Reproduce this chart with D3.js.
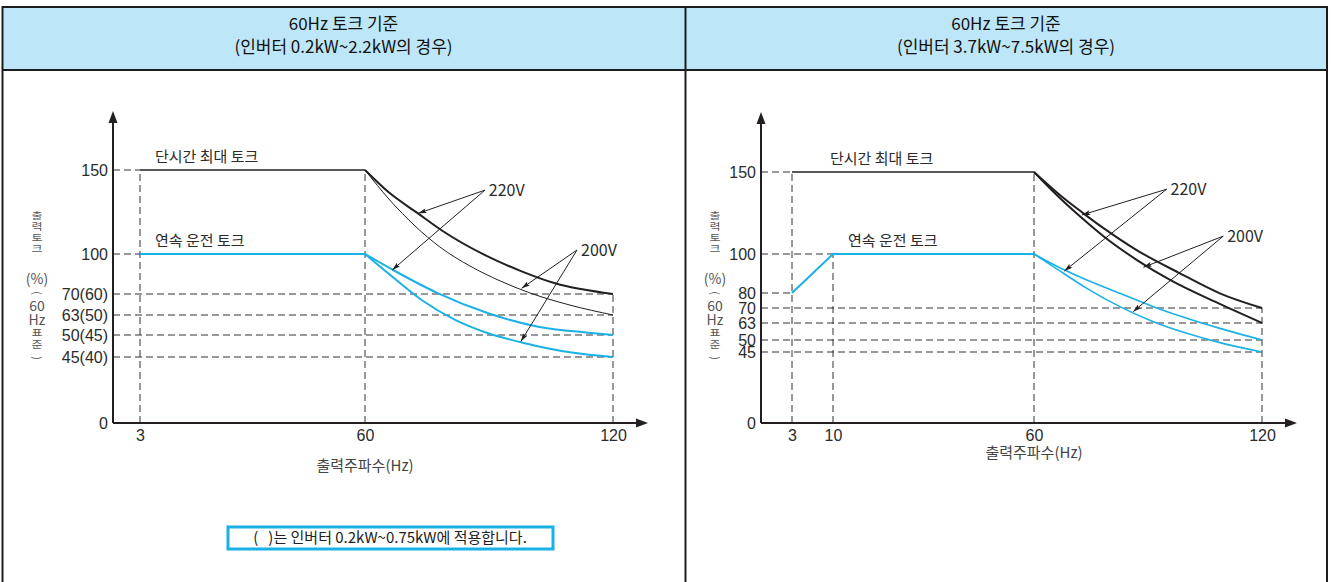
<!DOCTYPE html>
<html>
<head>
<meta charset="utf-8">
<script src="https://cdn.jsdelivr.net/npm/d3@7"></script>
<style>
  body { margin: 0; background: #fff; }
  svg { display: block; font-family: "Liberation Sans Narrow", "Noto Sans CJK KR", sans-serif; }
</style>
</head>
<body>
<svg width="1331" height="582"></svg>
<script>
// ---- data ----
var leftTitle = ["60Hz 토크 기준", "(인버터 0.2kW~2.2kW의 경우)"];
var rightTitle = ["60Hz 토크 기준", "(인버터 3.7kW~7.5kW의 경우)"];

var leftXTicks = [3, 60, 120];
var leftYTicks = [45, 50, 63, 70, 100, 150];
var leftYLabels = ["45(40)", "50(45)", "63(50)", "70(60)", "100", "150"];

var rightXTicks = [3, 10, 60, 120];
var rightYTicks = [45, 50, 63, 70, 80, 100, 150];
var rightYLabels = ["45", "50", "63", "70", "80", "100", "150"];

var leftShortFlat = [[3, 150], [60, 150]];
var leftContFlat = [[3, 100], [60, 100]];
var left220Short = [[60, 150], [65.6, 137], [72.9, 124], [78.6, 114], [89.8, 98], [97.9, 87], [106, 78], [120, 70]];
var left200Short = [[60, 150], [66, 132.1], [72.1, 116.7], [78.1, 104.2], [85.4, 91], [92.7, 79.8], [99.9, 70.8], [109.6, 66.3], [120, 63]];
var left220Cont = [[60, 100], [66.8, 88], [77.7, 70.5], [89.8, 63.6], [101.9, 55.4], [114, 51.5], [120, 50]];
var left200Cont = [[60, 100], [65.6, 85.5], [73.7, 68], [81.8, 59.8], [89.8, 51.1], [97.9, 48.3], [110, 46], [120, 45]];

var rightShortFlat = [[3, 150], [60, 150]];
var rightContRamp = [[3, 80], [10, 100], [60, 100]];
var right220Short = [[60, 150], [66.8, 136], [73, 124.8], [78.2, 115.9], [87, 102.4], [98.4, 90.1], [108.9, 79.8], [120, 70]];
var right200Short = [[60, 150], [66.8, 134.1], [72.9, 121.3], [78.2, 111], [87.1, 96.9], [95.8, 86.7], [108.9, 72.7], [120, 63]];
var right220Cont = [[60, 100], [68, 91.8], [73.9, 86.7], [82.6, 79.8], [91.4, 70.9], [100.2, 65.2], [108.9, 58.9], [120, 50]];
var right200Cont = [[60, 100], [65.1, 93.5], [73.9, 82.4], [82.6, 70.9], [91.4, 63.6], [100.2, 55.1], [108.9, 48.9], [120, 45]];

// dashed guides: [y, x where it stops] and [x, y where it stops]
var leftHGuides = [[150, 3], [100, 3], [70, 120], [63, 120], [50, 120], [45, 120]];
var leftVGuides = [[3, 150], [60, 150], [120, 70]];
var rightHGuides = [[150, 3], [100, 10], [80, 3], [70, 120], [63, 120], [50, 120], [45, 120]];
var rightVGuides = [[3, 150], [10, 100], [60, 150], [120, 70]];

var leftNotes = [
  { label: "220V", from: [89, 138], to: [[72.9, 124.2], [66.6, 88]] },
  { label: "200V", from: [111.3, 102.4], to: [[97.9, 74.3], [97.7, 48.5]] }
];
var rightNotes = [
  { label: "220V", from: [94.9, 139.5], to: [[72.6, 123.8], [68, 91.3]] },
  { label: "200V", from: [109.8, 110.9], to: [[88.8, 93.2], [86.1, 68.3]] }
];

var yTitle = ["출", "력", "토", "크", "(%)", "(", "60", "Hz", "표", "준", ")"];
var noteText = "(   )는 인버터 0.2kW~0.75kW에 적용합니다.";

// ---- drawing ----
var black = "#231f20", cyan = "#19b1e6", ink = "#2b2b2b";
var svg = d3.select("svg");

var defs = svg.append("defs");
defs.append("marker")
  .attr("id", "tip")
  .attr("viewBox", "0 0 10 6")
  .attr("refX", 10).attr("refY", 3)
  .attr("markerWidth", 9).attr("markerHeight", 5)
  .attr("markerUnits", "userSpaceOnUse")
  .attr("orient", "auto")
  .append("path")
  .attr("d", "M0,0L10,3L0,6L2,3Z")
  .attr("fill", black);

// table frame
svg.append("rect")
  .attr("x", 2).attr("y", 6).attr("width", 1325).attr("height", 64)
  .attr("fill", "#bde6f8");
[[2, 7, 1327, 7], [2, 70, 1327, 70], [2.5, 6, 2.5, 582], [685.5, 6, 685.5, 582], [1327, 6, 1327, 582]]
  .forEach(function (l) {
    svg.append("line")
      .attr("x1", l[0]).attr("y1", l[1]).attr("x2", l[2]).attr("y2", l[3])
      .attr("stroke", "#1d1d1d").attr("stroke-width", 2);
  });

var panels = [
  {
    title: leftTitle, cx: 343.5,
    xTicks: leftXTicks, xRange: [113, 140, 365, 613], xEnd: 648,
    yTicks: leftYTicks, yLabels: leftYLabels, yRange: [423, 357, 335, 315, 294, 254, 170], yTop: 111,
    hGuides: leftHGuides, vGuides: leftVGuides,
    series: [
      { d: leftShortFlat, c: black, w: 1.6, straight: true },
      { d: leftContFlat, c: cyan, w: 2, straight: true },
      { d: left220Short, c: black, w: 2 },
      { d: left200Short, c: black, w: 1 },
      { d: left220Cont, c: cyan, w: 2 },
      { d: left200Cont, c: cyan, w: 2 }
    ],
    notes: leftNotes,
    shortLabel: [3, 15], contLabel: [3, 15],
    xTitleY: 471, titleX: 37
  },
  {
    title: rightTitle, cx: 1006,
    xTicks: rightXTicks, xRange: [761, 792, 833, 1034, 1262], xEnd: 1297,
    yTicks: rightYTicks, yLabels: rightYLabels, yRange: [423, 352, 340, 323, 308, 293, 254, 172], yTop: 112,
    hGuides: rightHGuides, vGuides: rightVGuides,
    series: [
      { d: rightShortFlat, c: black, w: 1.6, straight: true },
      { d: rightContRamp, c: cyan, w: 2, straight: true },
      { d: right220Short, c: black, w: 2 },
      { d: right200Short, c: black, w: 2 },
      { d: right220Cont, c: cyan, w: 1.6 },
      { d: right200Cont, c: cyan, w: 1.6 }
    ],
    notes: rightNotes,
    shortLabel: [3, 38], contLabel: [10, 15],
    xTitleY: 458, titleX: 715
  }
];

panels.forEach(function (p) {
  var g = svg.append("g");

  // header
  g.append("text")
    .attr("x", p.cx).attr("y", 30)
    .attr("text-anchor", "middle")
    .attr("font-size", 17).attr("fill", "#111")
    .text(p.title[0]);
  g.append("text")
    .attr("x", p.cx).attr("y", 53)
    .attr("text-anchor", "middle")
    .attr("font-size", 17).attr("fill", "#111")
    .text(p.title[1]);

  var x = d3.scaleLinear().domain([0].concat(p.xTicks)).range(p.xRange);
  var y = d3.scaleLinear().domain([0].concat(p.yTicks)).range(p.yRange);
  var x0 = x(0), y0 = y(0);

  // dashed guides
  g.selectAll(".hg").data(p.hGuides).enter().append("line")
    .attr("x1", x0).attr("x2", function (d) { return x(d[1]); })
    .attr("y1", function (d) { return y(d[0]); }).attr("y2", function (d) { return y(d[0]); })
    .attr("stroke", "#333").attr("stroke-width", 1).attr("stroke-dasharray", "7,4");
  g.selectAll(".vg").data(p.vGuides).enter().append("line")
    .attr("x1", function (d) { return x(d[0]); }).attr("x2", function (d) { return x(d[0]); })
    .attr("y1", y0).attr("y2", function (d) { return y(d[1]); })
    .attr("stroke", "#333").attr("stroke-width", 1).attr("stroke-dasharray", "7,4");

  // axes with arrows
  g.append("line").attr("x1", x0).attr("y1", y0).attr("x2", x0).attr("y2", p.yTop + 8)
    .attr("stroke", black).attr("stroke-width", 2);
  g.append("path")
    .attr("d", "M" + x0 + "," + p.yTop + "l-4.5,12h9z").attr("fill", black);
  g.append("line").attr("x1", x0).attr("y1", y0).attr("x2", p.xEnd - 8).attr("y2", y0)
    .attr("stroke", black).attr("stroke-width", 2);
  g.append("path")
    .attr("d", "M" + p.xEnd + "," + y0 + "l-12,-4.5v9z").attr("fill", black);

  // tick labels through d3 axes
  var yAxis = d3.axisLeft(y)
    .tickValues([0].concat(p.yTicks))
    .tickFormat(function (d, i) { return i === 0 ? "0" : p.yLabels[i - 1]; })
    .tickSize(0).tickPadding(5);
  var ya = g.append("g").attr("transform", "translate(" + x0 + ",0)").call(yAxis);
  ya.select(".domain").remove();
  ya.selectAll("text").attr("font-size", 16).attr("fill", ink)
    .attr("font-family", "Liberation Sans Narrow, sans-serif");

  var xAxis = d3.axisBottom(x).tickValues(p.xTicks).tickSize(0).tickPadding(7);
  var xa = g.append("g").attr("transform", "translate(0," + y0 + ")").call(xAxis);
  xa.select(".domain").remove();
  xa.selectAll("text").attr("font-size", 16).attr("fill", ink)
    .attr("font-family", "Liberation Sans Narrow, sans-serif");

  // series
  var smooth = d3.line()
    .x(function (d) { return x(d[0]); })
    .y(function (d) { return y(d[1]); })
    .curve(d3.curveMonotoneX);
  var straight = d3.line()
    .x(function (d) { return x(d[0]); })
    .y(function (d) { return y(d[1]); });
  p.series.forEach(function (s) {
    g.append("path")
      .attr("d", (s.straight ? straight : smooth)(s.d))
      .attr("fill", "none")
      .attr("stroke", s.c).attr("stroke-width", s.w)
      .attr("stroke-linejoin", "round");
  });

  // series labels
  g.append("text")
    .attr("x", x(p.shortLabel[0]) + p.shortLabel[1]).attr("y", y(150) - 8)
    .attr("font-size", 15).attr("fill", ink)
    .attr("font-family", "Noto Sans CJK KR, sans-serif")
    .text("단시간 최대 토크");
  g.append("text")
    .attr("x", x(p.contLabel[0]) + p.contLabel[1]).attr("y", y(100) - 8)
    .attr("font-size", 15).attr("fill", ink)
    .attr("font-family", "Noto Sans CJK KR, sans-serif")
    .text("연속 운전 토크");

  // voltage annotations
  p.notes.forEach(function (n) {
    n.to.forEach(function (t) {
      g.append("line")
        .attr("x1", x(n.from[0])).attr("y1", y(n.from[1]))
        .attr("x2", x(t[0])).attr("y2", y(t[1]))
        .attr("stroke", black).attr("stroke-width", 1)
        .attr("marker-end", "url(#tip)");
    });
    g.append("text")
      .attr("x", x(n.from[0]) + 4).attr("y", y(n.from[1]))
      .attr("dy", "0.35em")
      .attr("font-size", 16).attr("fill", ink)
      .text(n.label);
  });

  // x axis title
  g.append("text")
    .attr("x", x(60)).attr("y", p.xTitleY)
    .attr("text-anchor", "middle")
    .attr("font-size", 15).attr("fill", "#444")
    .text("출력주파수(Hz)");

  // stacked y axis title
  var ty = [216, 227, 238, 249, 279, 293, 306, 320, 333, 345, 358];
  yTitle.forEach(function (t, i) {
    var latin = /[0-9A-Za-z%]/.test(t);
    var paren = (t === "(" || t === ")");
    var tf = "translate(" + p.titleX + "," + ty[i] + ")";
    if (paren) tf += " rotate(90)";
    else if (!latin) tf += " scale(1,0.8)";
    g.append("text")
      .attr("transform", tf)
      .attr("dy", "0.35em")
      .attr("text-anchor", "middle")
      .attr("font-size", paren ? 11 : (latin ? 14 : 12))
      .attr("fill", "#555")
      .text(t);
  });
});

// note box (left panel only)
svg.append("rect")
  .attr("x", 228).attr("y", 527).attr("width", 325).attr("height", 22)
  .attr("fill", "#fff").attr("stroke", cyan).attr("stroke-width", 3);
svg.append("text")
  .attr("x", 390).attr("y", 538).attr("dy", "0.35em")
  .attr("text-anchor", "middle")
  .attr("font-size", 15).attr("fill", "#222")
  .style("white-space", "pre")
  .text(noteText);
</script>
</body>
</html>
